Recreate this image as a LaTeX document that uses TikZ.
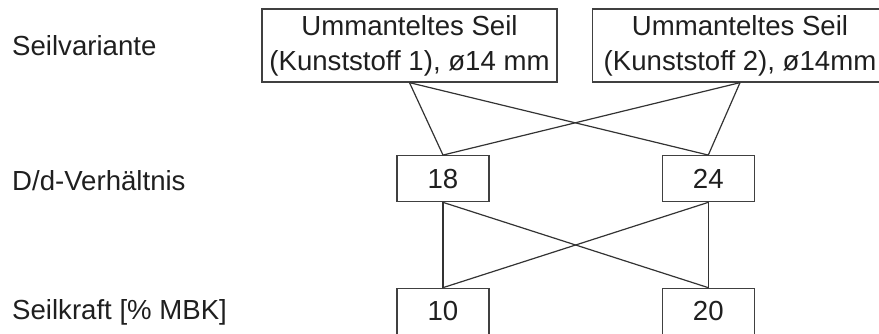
\documentclass[tikz,border=0pt]{standalone}
\usepackage{fontspec}
\setmainfont{Liberation Sans}
\begin{document}
\begin{tikzpicture}[x=1pt,y=-1pt,
  every node/.style={font=\fontsize{27.6}{35}\selectfont, text=black!88},
  box/.style={draw=black!75, line width=1.3pt, inner sep=0pt, align=center},
  bigbox/.style={box, minimum width=295pt, minimum height=73pt},
  smallbox/.style={box, minimum width=92pt, minimum height=46pt},
  lbl/.style={anchor=west, inner sep=0pt},
  conn/.style={draw=black!80, line width=1.2pt}]
\useasboundingbox (0,0) rectangle (879,333);
\node[lbl] (l1) at (12,46) {Seilvariante};
\node[lbl] (l2) at (12,181) {D/d-Verhältnis};
\node[lbl] (l3) at (12,312) {Seilkraft [\% MBK]};
\node[bigbox] (v1) at (409.5,45.5) {Ummanteltes Seil\\(Kunststoff 1), ø14 mm};
\node[bigbox] (v2) at (740,45.5) {Ummanteltes Seil\\(Kunststoff 2), ø14mm};
\node[smallbox] (d18) at (443,178.7) {18};
\node[smallbox] (d24) at (708.3,178.7) {24};
\node[smallbox] (k10) at (443,311.3) {10};
\node[smallbox] (k20) at (708.3,311.3) {20};
\draw[conn] (v1.south) -- (d18.north);
\draw[conn] (v1.south) -- (d24.north);
\draw[conn] (v2.south) -- (d18.north);
\draw[conn] (v2.south) -- (d24.north);
\draw[conn] (d18.south) -- (k10.north);
\draw[conn] (d18.south) -- (k20.north);
\draw[conn] (d24.south) -- (k10.north);
\draw[conn] (d24.south) -- (k20.north);
\end{tikzpicture}
\end{document}
